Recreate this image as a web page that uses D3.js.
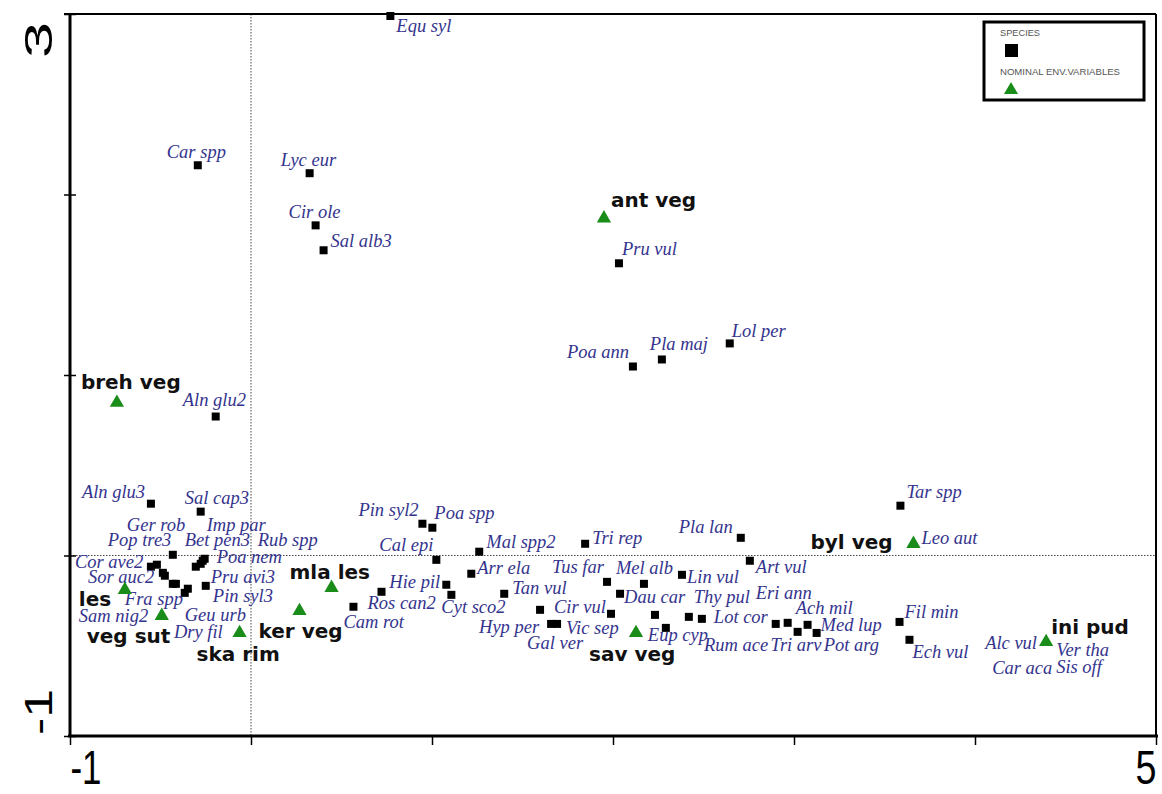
<!DOCTYPE html>
<html><head><meta charset="utf-8">
<script src="https://cdn.jsdelivr.net/npm/d3@7"></script>
<style>
html,body{margin:0;padding:0;background:#fff;}
svg{display:block;}
</style></head>
<body>
<svg id="chart" width="1162" height="794"></svg>
<script>
// ---------- DATA ----------
const speciesNames = ["Equ syl","Car spp","Lyc eur","Cir ole","Sal alb3","Pru vul","Poa ann","Pla maj","Lol per","Aln glu2",
 "Aln glu3","Sal cap3","Pop tre3","Cor ave2","Sor auc2","Ger rob","Fra spp","Sam nig2","Dry fil","Geu urb",
 "Pin syl3","Pru avi3","Bet pen3","Imp par","Poa nem","Rub spp","Pin syl2","Poa spp","Cal epi","Mal spp2",
 "Arr ela","Hie pil","Cyt sco2","Ros can2","Cam rot","Tan vul","Hyp per","Vic sep","Gal ver","Cir vul",
 "Tus far","Mel alb","Dau car","Lin vul","Tri rep","Pla lan","Art vul","Eup cyp","Rum ace","Thy pul",
 "Lot cor","Eri ann","Ach mil","Tri arv","Med lup","Pot arg","Tar spp","Leo aut","Fil min","Ech vul",
 "Alc vul","Ver tha","Car aca","Sis off"];
const speciesX = [0.770,-0.294,0.324,0.357,0.401,2.033,2.110,2.270,2.645,-0.195,
 -0.553,-0.278,-0.432,-0.553,-0.520,-0.487,-0.476,-0.432,-0.415,-0.366,
 -0.349,-0.250,-0.305,-0.278,-0.256,-0.267,0.947,1.002,1.024,1.261,
 1.217,1.079,1.107,0.721,0.566,1.399,1.597,1.691,1.658,1.989,
 1.967,2.171,2.039,2.381,1.846,2.706,2.756,2.292,2.232,2.419,
 2.491,2.899,2.965,3.020,3.075,3.125,3.588,3.660,3.583,3.638,
 4.393,4.393,4.393,4.393];
const speciesY = [2.989,2.162,2.118,1.829,1.691,1.619,1.047,1.086,1.175,0.770,
 0.287,0.243,0.004,-0.062,-0.051,-0.096,-0.112,-0.157,-0.157,-0.207,
 -0.184,-0.168,-0.062,-0.046,-0.018,-0.029,0.176,0.154,-0.024,0.021,
 -0.101,-0.162,-0.218,-0.201,-0.284,-0.212,-0.301,-0.379,-0.379,-0.323,
 -0.146,-0.157,-0.212,-0.107,0.065,0.098,-0.029,-0.401,-0.329,-0.340,
 -0.351,-0.379,-0.373,-0.423,-0.384,-0.429,0.276,0.065,-0.368,-0.467,
 -0.479,-0.479,-0.479,-0.479];

const envNames = ["ant veg","breh veg","les","veg sut","ska rim","ker veg","mla les","sav veg","byl veg","ini pud"];
const envX = [1.950,-0.741,-0.697,-0.493,-0.063,0.268,0.445,2.127,3.660,4.393];
const envY = [1.868,0.847,-0.190,-0.334,-0.429,-0.307,-0.179,-0.429,0.065,-0.479];

const xDomain = [-1, 5];
const yDomain = [-1, 3];
const xTickValues = [-1,0,1,2,3,4,5];
const yTickValues = [-1,0,1,2,3];
const xTickLabels = ["-1","5"];   // labelled at the domain ends
const yTickLabels = ["-1","3"];
const legendItems = ["SPECIES","NOMINAL ENV.VARIABLES"];

// ---------- LAYOUT (label offsets in px from the point, text start / baseline) ----------
const speciesLabelOffsets = [[6,16],[-31,-7],[-29,-7],[-27,-7],[7,-3],[3,-8],[-66,-9],[-12,-9],[2,-6],[-33,-11],
 [-69,-6],[-16,-8],[-65,-9],[-76,1],[-69,18],[-36,-42],[-40,29],[-94,38],[-2,54],[0,28],
 [25,13],[5,-3],[-11,-21],[6,-33],[12,4],[55,-15],[-64,-8],[2,-9],[-57,-9],[7,-4],
 [6,0],[-57,3],[-10,18],[-14,17],[-10,21],[8,0],[-61,23],[9,10],[-24,25],[-57,-1],
 [-55,-9],[-28,-10],[4,9],[5,8],[7,0],[-62,-5],[6,12],[-18,13],[49,36],[5,-14],
 [12,4],[-20,-25],[8,-9],[-27,19],[13,6],[7,18],[6,-8],[8,0],[5,-4],[3,18],
 [-61,7],[10,14],[-54,32],[10,31]];
const envLabelOffsets = [[7,-11],[-36,-14],[-46,16],[-75,27],[-43,28],[-41,27],[-42,-9],[-47,28],[-103,5],[5,-8]];

const svg = d3.select("#chart");
const x = d3.scaleLinear().domain(xDomain).range([70, 1156]);
const y = d3.scaleLinear().domain(yDomain).range([736, 14]);

// dotted zero lines
svg.append("line").attr("x1", x(0)).attr("x2", x(0)).attr("y1", y(3)).attr("y2", y(-1))
  .attr("stroke", "#444").attr("stroke-width", 1).attr("stroke-dasharray", "1.5,1.5");
svg.append("line").attr("x1", x(-1)).attr("x2", x(5)).attr("y1", y(0)).attr("y2", y(0))
  .attr("stroke", "#444").attr("stroke-width", 1).attr("stroke-dasharray", "1.5,1.5");

// frame top & right
svg.append("line").attr("x1", 64).attr("x2", x(5)).attr("y1", y(3)).attr("y2", y(3))
  .attr("stroke", "#000").attr("stroke-width", 2);
svg.append("line").attr("x1", x(5)).attr("x2", x(5)).attr("y1", y(3)).attr("y2", y(-1))
  .attr("stroke", "#000").attr("stroke-width", 2);

// axes
const xAxis = svg.append("g").attr("transform", `translate(0,${y(-1)})`)
  .call(d3.axisBottom(x).tickValues(xTickValues).tickSize(9).tickFormat(""));
xAxis.select(".domain").attr("stroke-width", 3).attr("d", `M${x(-1)-2},0H${x(5)+2}`);
xAxis.selectAll(".tick line").attr("stroke-width", 1.5);

const yAxis = svg.append("g").attr("transform", `translate(${x(-1)},0)`)
  .call(d3.axisLeft(y).tickValues(yTickValues).tickSize(6).tickFormat(""));
yAxis.select(".domain").attr("stroke-width", 3).attr("d", `M0,${y(3)-1}V${y(-1)+1}`);
yAxis.selectAll(".tick line").attr("x1", -6).attr("x2", 6).attr("stroke-width", 1.5);

// axis end labels
const fontAxis = "'Liberation Sans Narrow','Liberation Sans',Arial,sans-serif";
svg.append("text").attr("x", 86).attr("y", 784).attr("text-anchor", "middle")
  .attr("font-family", fontAxis).attr("font-size", 48)
  .attr("textLength", 31).attr("lengthAdjust", "spacingAndGlyphs").text(xTickLabels[0]);
svg.append("text").attr("x", 1146).attr("y", 784).attr("text-anchor", "middle")
  .attr("font-family", fontAxis).attr("font-size", 48)
  .attr("textLength", 21).attr("lengthAdjust", "spacingAndGlyphs").text(xTickLabels[1]);
svg.append("text").attr("transform", "translate(52,40) rotate(-90)").attr("text-anchor", "middle")
  .attr("font-family", "'Liberation Sans',Arial,sans-serif").attr("font-size", 38)
  .attr("textLength", 36).attr("lengthAdjust", "spacingAndGlyphs").text(yTickLabels[1]);
svg.append("text").attr("transform", "translate(52,712) rotate(-90)").attr("text-anchor", "middle")
  .attr("font-family", "'Liberation Sans',Arial,sans-serif").attr("font-size", 38)
  .attr("textLength", 46).attr("lengthAdjust", "spacingAndGlyphs").text(yTickLabels[0]);

// data tables
const species = speciesNames.map((n, i) => ({name: n, x: speciesX[i], y: speciesY[i], off: speciesLabelOffsets[i]}));
const env = envNames.map((n, i) => ({name: n, x: envX[i], y: envY[i], off: envLabelOffsets[i]}));
const underTriangle = d => env.some(e => Math.abs(e.x - d.x) < 1e-6 && Math.abs(e.y - d.y) < 1e-6);

const sq = 8;
svg.append("g").selectAll("rect").data(species.filter(d => !underTriangle(d))).join("rect")
  .attr("x", d => x(d.x) - sq/2).attr("y", d => y(d.y) - sq/2)
  .attr("width", sq).attr("height", sq).attr("fill", "#000");

svg.append("g").selectAll("text").data(species).join("text")
  .attr("x", d => x(d.x) + d.off[0]).attr("y", d => y(d.y) + d.off[1])
  .attr("font-family", "'Liberation Serif','Times New Roman',serif")
  .attr("font-style", "italic").attr("font-size", 18.5).attr("fill", "#34348e")
  .text(d => d.name);

const tri = d3.symbol().type(d3.symbolTriangle).size(88);
svg.append("g").selectAll("path").data(env).join("path")
  .attr("d", tri).attr("transform", d => `translate(${x(d.x)},${y(d.y)})`)
  .attr("fill", "#1a8c1a");

svg.append("g").selectAll("text").data(env).join("text")
  .attr("x", d => x(d.x) + d.off[0]).attr("y", d => y(d.y) + d.off[1])
  .attr("font-family", "'DejaVu Sans',Verdana,sans-serif").attr("font-weight", "bold")
  .attr("font-size", 20).attr("fill", "#111")
  .text(d => d.name);

// legend
const lg = svg.append("g");
lg.append("rect").attr("x", 984).attr("y", 22).attr("width", 160).attr("height", 78)
  .attr("fill", "#fff").attr("stroke", "#000").attr("stroke-width", 3);
lg.append("text").attr("x", 1000).attr("y", 36).attr("font-family", "'Liberation Sans',Arial,sans-serif")
  .attr("font-size", 9).attr("fill", "#555")
  .attr("textLength", 40).attr("lengthAdjust", "spacingAndGlyphs").text(legendItems[0]);
lg.append("rect").attr("x", 1005).attr("y", 44).attr("width", 13).attr("height", 13).attr("fill", "#000");
lg.append("text").attr("x", 1000).attr("y", 75).attr("font-family", "'Liberation Sans',Arial,sans-serif")
  .attr("font-size", 9).attr("fill", "#555")
  .attr("textLength", 120).attr("lengthAdjust", "spacingAndGlyphs").text(legendItems[1]);
lg.append("path").attr("d", d3.symbol().type(d3.symbolTriangle).size(85))
  .attr("transform", "translate(1011,90)").attr("fill", "#1a8c1a");
</script>
</body></html>
